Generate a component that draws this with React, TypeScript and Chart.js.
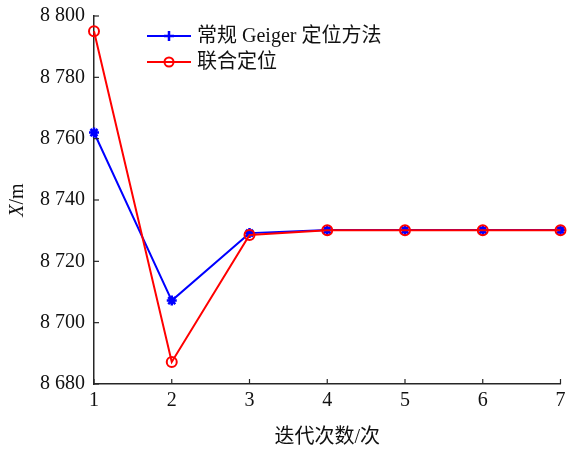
import React, { useEffect, useRef } from "react";
import { Chart, registerables } from "chart.js";

Chart.register(...registerables);

const iterations = ["1", "2", "3", "4", "5", "6", "7"];
const geigerValues = [8762, 8707.2, 8729.2, 8730.2, 8730.2, 8730.2, 8730.2];
const jointValues = [8795, 8687.2, 8728.6, 8730.1, 8730.1, 8730.1, 8730.1];
const yMin = 8680;
const yMax = 8800;
const yStep = 20;
const seriesNames = ["常规 Geiger 定位方法", "联合定位"];
const xTitle = "迭代次数/次";

const SERIF = "'Liberation Serif', 'Times New Roman', 'Noto Sans CJK SC', serif";
const AXIS_COLOR = "#262626";
const FS = 20;

const fmt = (v: number) => {
  const th = Math.floor(v / 1000);
  const rest = String(Math.round(v % 1000)).padStart(3, "0");
  return `${th} ${rest}`;
};

const decorPlugin = {
  id: "decor",
  afterDraw(chart: any) {
    const ctx = chart.ctx;
    const x = chart.scales.x;
    const y = chart.scales.y;
    const area = chart.chartArea;
    ctx.save();
    ctx.strokeStyle = AXIS_COLOR;
    ctx.lineWidth = 1.2;
    y.ticks.forEach((_t: any, i: number) => {
      const py = y.getPixelForTick(i);
      ctx.beginPath();
      ctx.moveTo(area.left, py);
      ctx.lineTo(area.left + 5, py);
      ctx.stroke();
    });
    x.ticks.forEach((_t: any, i: number) => {
      const px = x.getPixelForTick(i);
      ctx.beginPath();
      ctx.moveTo(px, area.bottom);
      ctx.lineTo(px, area.bottom - 5);
      ctx.stroke();
    });
    ctx.translate(18, (area.top + area.bottom) / 2);
    ctx.rotate(-Math.PI / 2);
    ctx.fillStyle = "#111";
    ctx.textBaseline = "middle";
    ctx.font = `italic ${FS}px ${SERIF}`;
    const wX = ctx.measureText("X").width;
    ctx.font = `${FS}px ${SERIF}`;
    const wM = ctx.measureText("/m").width;
    const start = -(wX + wM) / 2;
    ctx.textAlign = "left";
    ctx.font = `italic ${FS}px ${SERIF}`;
    ctx.fillText("X", start, 0);
    ctx.font = `${FS}px ${SERIF}`;
    ctx.fillText("/m", start + wX, 0);
    ctx.restore();

    ctx.save();
    const lx0 = 147;
    const lx1 = 191;
    const rows = [
      { y: 36, color: "#0000ff", name: seriesNames[0], style: "star" },
      { y: 62, color: "#ff0000", name: seriesNames[1], style: "circle" },
    ];
    rows.forEach((r) => {
      ctx.strokeStyle = r.color;
      ctx.lineWidth = 2;
      ctx.beginPath();
      ctx.moveTo(lx0, r.y);
      ctx.lineTo(lx1, r.y);
      ctx.stroke();
      const cx = (lx0 + lx1) / 2;
      if (r.style === "circle") {
        ctx.beginPath();
        ctx.arc(cx, r.y, 4.5, 0, Math.PI * 2);
        ctx.stroke();
      } else {
        ctx.lineWidth = 2.5;
        ctx.beginPath();
        ctx.moveTo(cx - 5, r.y);
        ctx.lineTo(cx + 5, r.y);
        ctx.moveTo(cx, r.y - 5);
        ctx.lineTo(cx, r.y + 5);
        ctx.stroke();
      }
      ctx.fillStyle = "#111";
      ctx.font = `${FS}px ${SERIF}`;
      ctx.textAlign = "left";
      ctx.textBaseline = "middle";
      ctx.fillText(r.name, 197, r.y + 1);
    });
    ctx.restore();
  },
};

export default function App() {
  const ref = useRef<HTMLCanvasElement | null>(null);
  useEffect(() => {
    if (!ref.current) return;
    const chart = new Chart(ref.current, {
      type: "line",
      data: {
        labels: iterations,
        datasets: [
          {
            label: seriesNames[1],
            data: jointValues,
            borderColor: "#ff0000",
            backgroundColor: "rgba(0,0,0,0)",
            borderWidth: 2,
            pointStyle: "circle",
            pointRadius: 5,
            pointBorderWidth: 2,
            pointBorderColor: "#ff0000",
            pointBackgroundColor: "rgba(0,0,0,0)",
            tension: 0,
            order: 1,
          },
          {
            label: seriesNames[0],
            data: geigerValues,
            borderColor: "#0000ff",
            backgroundColor: "#0000ff",
            borderWidth: 2,
            pointStyle: "star",
            pointRadius: 5,
            pointBorderWidth: 2.5,
            pointBorderColor: "#0000ff",
            tension: 0,
            order: 2,
          },
        ],
      },
      options: {
        animation: false,
        responsive: false,
        devicePixelRatio: 1,
        layout: { padding: { left: 0, right: 4, top: 16, bottom: 0 } },
        plugins: { legend: { display: false }, tooltip: { enabled: false } },
        scales: {
          x: {
            type: "category",
            offset: false,
            grid: { display: true, drawOnChartArea: false, drawTicks: false },
            border: { display: true, color: AXIS_COLOR, width: 1.5 },
            ticks: {
              color: "#111",
              font: { family: SERIF, size: FS },
              padding: 5,
              maxRotation: 0,
            },
            title: {
              display: true,
              text: xTitle,
              color: "#111",
              font: { family: SERIF, size: FS },
              padding: { top: 12, bottom: 0 },
            },
            afterFit: (s: any) => {
              s.height = 66;
              s.paddingLeft = 0;
              s.paddingRight = 0;
            },
          },
          y: {
            min: yMin,
            max: yMax,
            grid: { display: true, drawOnChartArea: false, drawTicks: false },
            border: { display: true, color: AXIS_COLOR, width: 1.5 },
            ticks: {
              stepSize: yStep,
              color: "#111",
              font: { family: SERIF, size: FS },
              padding: 9,
              callback: (v: any) => fmt(Number(v)),
            },
            afterFit: (s: any) => {
              s.width = 94;
              s.paddingTop = 0;
              s.paddingBottom = 0;
            },
          },
        },
      },
      plugins: [decorPlugin],
    } as any);
    return () => chart.destroy();
  }, []);
  return (
    <div style={{ position: "absolute", left: 0, top: 0, width: 568, height: 450, background: "#fff" }}>
      <canvas ref={ref} width={568} height={450} style={{ width: 568, height: 450 }} />
    </div>
  );
}
